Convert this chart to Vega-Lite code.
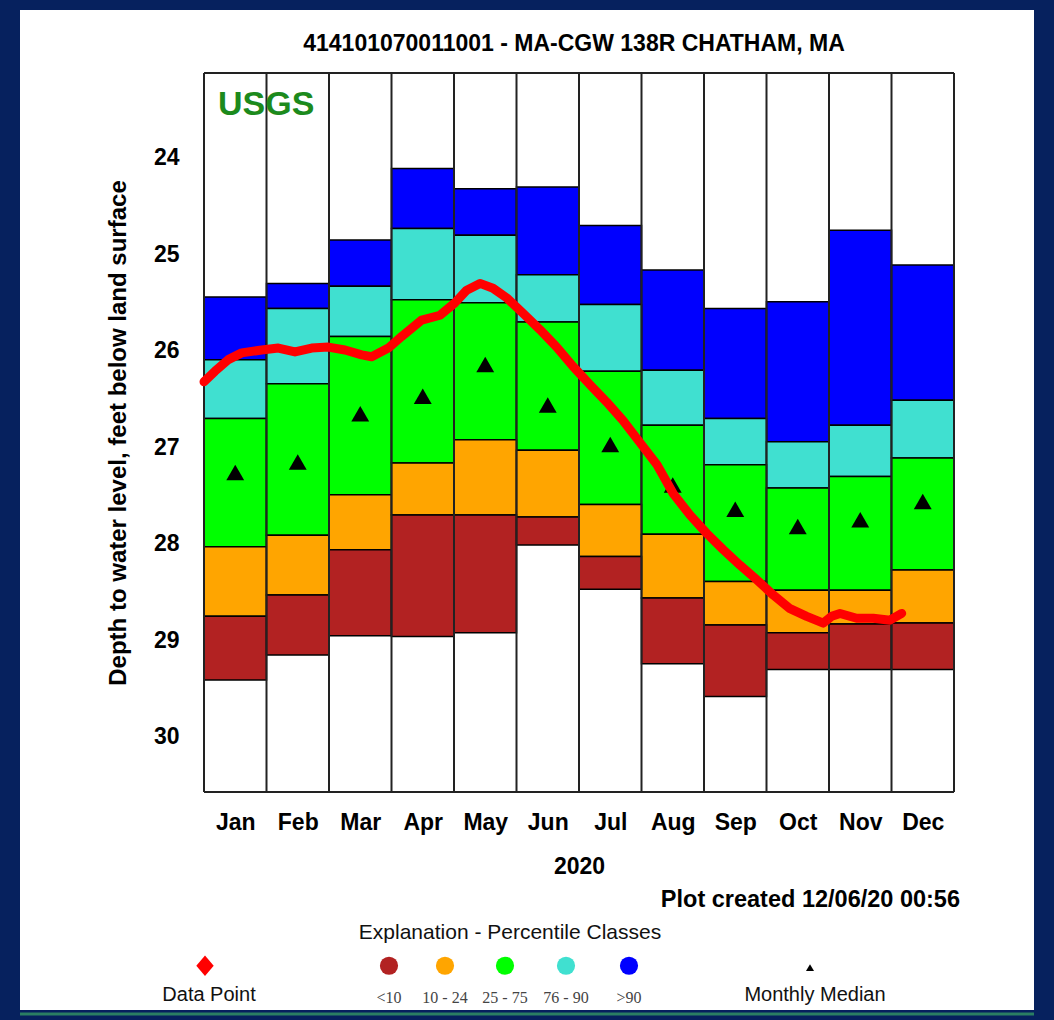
{
  "$schema": "https://vega.github.io/schema/vega-lite/v6.json",
  "width": 750,
  "height": 719,
  "autosize": {"type": "none"},
  "padding": {"left": 204, "top": 73, "right": 100, "bottom": 228},
  "background": "#06215e",
  "config": {"view": {"stroke": null, "fill": "white"}, "font": "Liberation Sans"},
  "data": {"values": [{"anchor": 1}]},
  "datasets": {
    "monthly": [
      {"month": "Jan", "m0": 0, "m1": 1, "mc": 0.5, "max": 25.44, "p90": 26.09, "p75": 26.70, "p25": 28.03, "p10": 28.75, "min": 29.41, "median": 27.26},
      {"month": "Feb", "m0": 1, "m1": 2, "mc": 1.5, "max": 25.30, "p90": 25.56, "p75": 26.34, "p25": 27.91, "p10": 28.53, "min": 29.15, "median": 27.15},
      {"month": "Mar", "m0": 2, "m1": 3, "mc": 2.5, "max": 24.85, "p90": 25.33, "p75": 25.85, "p25": 27.49, "p10": 28.06, "min": 28.95, "median": 26.65},
      {"month": "Apr", "m0": 3, "m1": 4, "mc": 3.5, "max": 24.11, "p90": 24.73, "p75": 25.47, "p25": 27.16, "p10": 27.70, "min": 28.96, "median": 26.47},
      {"month": "May", "m0": 4, "m1": 5, "mc": 4.5, "max": 24.32, "p90": 24.80, "p75": 25.50, "p25": 26.92, "p10": 27.70, "min": 28.92, "median": 26.14},
      {"month": "Jun", "m0": 5, "m1": 6, "mc": 5.5, "max": 24.30, "p90": 25.21, "p75": 25.70, "p25": 27.03, "p10": 27.72, "min": 28.01, "median": 26.56},
      {"month": "Jul", "m0": 6, "m1": 7, "mc": 6.5, "max": 24.70, "p90": 25.52, "p75": 26.21, "p25": 27.59, "p10": 28.13, "min": 28.47, "median": 26.97},
      {"month": "Aug", "m0": 7, "m1": 8, "mc": 7.5, "max": 25.16, "p90": 26.20, "p75": 26.77, "p25": 27.90, "p10": 28.56, "min": 29.24, "median": 27.39},
      {"month": "Sep", "m0": 8, "m1": 9, "mc": 8.5, "max": 25.56, "p90": 26.70, "p75": 27.18, "p25": 28.39, "p10": 28.84, "min": 29.58, "median": 27.64},
      {"month": "Oct", "m0": 9, "m1": 10, "mc": 9.5, "max": 25.49, "p90": 26.94, "p75": 27.42, "p25": 28.48, "p10": 28.92, "min": 29.30, "median": 27.82},
      {"month": "Nov", "m0": 10, "m1": 11, "mc": 10.5, "max": 24.75, "p90": 26.77, "p75": 27.30, "p25": 28.48, "p10": 28.83, "min": 29.30, "median": 27.75},
      {"month": "Dec", "m0": 11, "m1": 12, "mc": 11.5, "max": 25.11, "p90": 26.51, "p75": 27.11, "p25": 28.27, "p10": 28.82, "min": 29.30, "median": 27.56}
    ],
    "edges": [
      {"edge": 0}, {"edge": 1}, {"edge": 2}, {"edge": 3}, {"edge": 4}, {"edge": 5}, {"edge": 6},
      {"edge": 7}, {"edge": 8}, {"edge": 9}, {"edge": 10}, {"edge": 11}, {"edge": 12}
    ],
    "levels": [
      {"month_pos": 0, "depth": 26.32}, {"month_pos": 0.176, "depth": 26.21}, {"month_pos": 0.389, "depth": 26.09},
      {"month_pos": 0.603, "depth": 26.02}, {"month_pos": 0.923, "depth": 25.99}, {"month_pos": 1.189, "depth": 25.97},
      {"month_pos": 1.456, "depth": 26.01}, {"month_pos": 1.723, "depth": 25.97}, {"month_pos": 1.989, "depth": 25.96},
      {"month_pos": 2.256, "depth": 25.99}, {"month_pos": 2.523, "depth": 26.04}, {"month_pos": 2.683, "depth": 26.06},
      {"month_pos": 2.949, "depth": 25.97}, {"month_pos": 3.163, "depth": 25.85}, {"month_pos": 3.483, "depth": 25.68},
      {"month_pos": 3.776, "depth": 25.63}, {"month_pos": 4.016, "depth": 25.50}, {"month_pos": 4.203, "depth": 25.37},
      {"month_pos": 4.416, "depth": 25.30}, {"month_pos": 4.624, "depth": 25.35}, {"month_pos": 4.843, "depth": 25.45},
      {"month_pos": 5.104, "depth": 25.61}, {"month_pos": 5.376, "depth": 25.78}, {"month_pos": 5.643, "depth": 25.96},
      {"month_pos": 5.904, "depth": 26.16}, {"month_pos": 6.176, "depth": 26.35}, {"month_pos": 6.443, "depth": 26.53},
      {"month_pos": 6.704, "depth": 26.72}, {"month_pos": 6.976, "depth": 26.95}, {"month_pos": 7.248, "depth": 27.18},
      {"month_pos": 7.509, "depth": 27.48}, {"month_pos": 7.776, "depth": 27.70}, {"month_pos": 8.043, "depth": 27.89},
      {"month_pos": 8.309, "depth": 28.06}, {"month_pos": 8.576, "depth": 28.22}, {"month_pos": 8.843, "depth": 28.37},
      {"month_pos": 9.109, "depth": 28.53}, {"month_pos": 9.376, "depth": 28.67}, {"month_pos": 9.643, "depth": 28.75},
      {"month_pos": 9.909, "depth": 28.82}, {"month_pos": 10.043, "depth": 28.75}, {"month_pos": 10.176, "depth": 28.72},
      {"month_pos": 10.443, "depth": 28.77}, {"month_pos": 10.709, "depth": 28.77}, {"month_pos": 10.976, "depth": 28.79},
      {"month_pos": 11.163, "depth": 28.72}
    ]
  },
  "layer": [
    {
      "mark": {"type": "rect", "fill": "white"},
      "encoding": {
        "x": {"datum": -2.944, "type": "quantitative",
          "scale": {"domain": [0, 12], "nice": false, "zero": false},
          "axis": {"values": [0.5, 1.5, 2.5, 3.5, 4.5, 5.5, 6.5, 7.5, 8.5, 9.5, 10.5, 11.5],
            "labelExpr": "['Jan','Feb','Mar','Apr','May','Jun','Jul','Aug','Sep','Oct','Nov','Dec'][floor(datum.value)]",
            "title": "2020", "ticks": false, "tickSize": 0, "domain": false, "grid": false,
            "labelFont": "Liberation Sans", "labelFontSize": 23, "labelFontWeight": "bold", "labelColor": "black", "labelPadding": 19,
            "labelFlush": false, "labelOverlap": false,
            "titleFont": "Liberation Sans", "titleFontSize": 23, "titleFontWeight": "bold", "titleColor": "black", "titlePadding": 21, "zindex": 1}},
        "x2": {"datum": 13.28},
        "y": {"datum": 22.466, "type": "quantitative",
          "scale": {"domain": [23.12, 30.57], "reverse": true, "nice": false, "zero": false},
          "axis": {"values": [24, 25, 26, 27, 28, 29, 30], "format": "d", "title": "Depth to water level, feet below land surface",
            "ticks": false, "tickSize": 0, "domain": false, "grid": false,
            "labelFont": "Liberation Sans", "labelFontSize": 23, "labelFontWeight": "bold", "labelColor": "black", "labelPadding": 25,
            "titleFont": "Liberation Sans", "titleFontSize": 24, "titleFontWeight": "bold", "titleColor": "black", "titlePadding": 23, "zindex": 1}},
        "y2": {"datum": 32.83}
      }
    },
    {
      "mark": {"type": "rule", "color": "#2a7f62", "strokeWidth": 3},
      "encoding": {"x": {"datum": -2.944}, "x2": {"datum": 13.28}, "y": {"datum": 32.87}}
    },
    {"mark": {"type": "text", "text": "414101070011001 - MA-CGW 138R CHATHAM, MA", "font": "Liberation Sans", "fontSize": 23, "fontWeight": "bold", "color": "black", "align": "center", "baseline": "middle"},
     "encoding": {"x": {"datum": 5.92}, "y": {"datum": 22.82}}},
    {
      "data": {"name": "monthly"},
      "layer": [
        {"mark": {"type": "rect", "stroke": "black", "strokeWidth": 1.5},
         "encoding": {"x": {"field": "m0", "type": "quantitative"}, "x2": {"field": "m1"},
           "y": {"field": "max", "type": "quantitative"}, "y2": {"field": "p90"},
           "color": {"datum": ">90", "type": "nominal", "legend": null,
             "scale": {"domain": [">90", "76-90", "25-75", "10-24", "<10"], "range": ["#0000FF", "#40E0D0", "#00FF00", "#FFA500", "#B22222"]}}}},
        {"mark": {"type": "rect", "stroke": "black", "strokeWidth": 1.5},
         "encoding": {"x": {"field": "m0", "type": "quantitative"}, "x2": {"field": "m1"},
           "y": {"field": "p90", "type": "quantitative"}, "y2": {"field": "p75"},
           "color": {"datum": "76-90", "type": "nominal"}}},
        {"mark": {"type": "rect", "stroke": "black", "strokeWidth": 1.5},
         "encoding": {"x": {"field": "m0", "type": "quantitative"}, "x2": {"field": "m1"},
           "y": {"field": "p75", "type": "quantitative"}, "y2": {"field": "p25"},
           "color": {"datum": "25-75", "type": "nominal"}}},
        {"mark": {"type": "rect", "stroke": "black", "strokeWidth": 1.5},
         "encoding": {"x": {"field": "m0", "type": "quantitative"}, "x2": {"field": "m1"},
           "y": {"field": "p25", "type": "quantitative"}, "y2": {"field": "p10"},
           "color": {"datum": "10-24", "type": "nominal"}}},
        {"mark": {"type": "rect", "stroke": "black", "strokeWidth": 1.5},
         "encoding": {"x": {"field": "m0", "type": "quantitative"}, "x2": {"field": "m1"},
           "y": {"field": "p10", "type": "quantitative"}, "y2": {"field": "min"},
           "color": {"datum": "<10", "type": "nominal"}}},
        {"mark": {"type": "point", "shape": "triangle-up", "filled": true, "color": "black", "size": 320, "opacity": 1},
         "encoding": {"x": {"field": "mc", "type": "quantitative"}, "y": {"field": "median", "type": "quantitative"}}}
      ]
    },
    {
      "data": {"name": "edges"},
      "mark": {"type": "rule", "color": "#222222", "strokeWidth": 2},
      "encoding": {"x": {"field": "edge", "type": "quantitative"}}
    },
    {"mark": {"type": "rule", "color": "#222222", "strokeWidth": 2}, "encoding": {"y": {"datum": 23.12}}},
    {"mark": {"type": "rule", "color": "#222222", "strokeWidth": 2}, "encoding": {"y": {"datum": 30.57}}},
    {
      "data": {"name": "levels"},
      "mark": {"type": "line", "color": "#FF0000", "strokeWidth": 9, "strokeCap": "round", "strokeJoin": "round"},
      "encoding": {"x": {"field": "month_pos", "type": "quantitative"}, "y": {"field": "depth", "type": "quantitative"}}
    },
    {"mark": {"type": "text", "text": "USGS", "font": "Liberation Sans", "fontSize": 34, "fontWeight": "bold", "color": "#1c8a1c", "align": "left", "baseline": "middle"},
     "encoding": {"x": {"datum": 0.224}, "y": {"datum": 23.45}}},
    {"mark": {"type": "text", "text": "Plot created 12/06/20 00:56", "font": "Liberation Sans", "fontSize": 23.5, "fontWeight": "bold", "color": "black", "align": "right", "baseline": "middle"},
     "encoding": {"x": {"datum": 12.096}, "y": {"datum": 31.69}}},
    {"mark": {"type": "text", "text": "Explanation - Percentile Classes", "font": "Liberation Sans", "fontSize": 21, "color": "#111111", "align": "center", "baseline": "middle"},
     "encoding": {"x": {"datum": 4.896}, "y": {"datum": 32.03}}},
    {"mark": {"type": "point", "shape": "M0,-1L0.85,0L0,1L-0.85,0Z", "filled": true, "color": "#FF0000", "size": 420, "opacity": 1},
     "encoding": {"x": {"datum": 0.016}, "y": {"datum": 32.37}}},
    {"mark": {"type": "text", "text": "Data Point", "font": "Liberation Sans", "fontSize": 20, "color": "#111111", "align": "center", "baseline": "middle"},
     "encoding": {"x": {"datum": 0.08}, "y": {"datum": 32.67}}},
    {"mark": {"type": "point", "shape": "circle", "filled": true, "size": 330, "opacity": 1},
     "encoding": {"x": {"datum": 2.96}, "y": {"datum": 32.37}, "color": {"datum": "<10", "type": "nominal"}}},
    {"mark": {"type": "point", "shape": "circle", "filled": true, "size": 330, "opacity": 1},
     "encoding": {"x": {"datum": 3.856}, "y": {"datum": 32.37}, "color": {"datum": "10-24", "type": "nominal"}}},
    {"mark": {"type": "point", "shape": "circle", "filled": true, "size": 330, "opacity": 1},
     "encoding": {"x": {"datum": 4.816}, "y": {"datum": 32.37}, "color": {"datum": "25-75", "type": "nominal"}}},
    {"mark": {"type": "point", "shape": "circle", "filled": true, "size": 330, "opacity": 1},
     "encoding": {"x": {"datum": 5.792}, "y": {"datum": 32.37}, "color": {"datum": "76-90", "type": "nominal"}}},
    {"mark": {"type": "point", "shape": "circle", "filled": true, "size": 330, "opacity": 1},
     "encoding": {"x": {"datum": 6.8}, "y": {"datum": 32.37}, "color": {"datum": ">90", "type": "nominal"}}},
    {"mark": {"type": "text", "text": "<10", "font": "Liberation Serif", "fontSize": 16, "color": "#444444", "align": "center", "baseline": "middle"},
     "encoding": {"x": {"datum": 2.96}, "y": {"datum": 32.70}}},
    {"mark": {"type": "text", "text": "10 - 24", "font": "Liberation Serif", "fontSize": 16, "color": "#444444", "align": "center", "baseline": "middle"},
     "encoding": {"x": {"datum": 3.856}, "y": {"datum": 32.70}}},
    {"mark": {"type": "text", "text": "25 - 75", "font": "Liberation Serif", "fontSize": 16, "color": "#444444", "align": "center", "baseline": "middle"},
     "encoding": {"x": {"datum": 4.816}, "y": {"datum": 32.70}}},
    {"mark": {"type": "text", "text": "76 - 90", "font": "Liberation Serif", "fontSize": 16, "color": "#444444", "align": "center", "baseline": "middle"},
     "encoding": {"x": {"datum": 5.792}, "y": {"datum": 32.70}}},
    {"mark": {"type": "text", "text": ">90", "font": "Liberation Serif", "fontSize": 16, "color": "#444444", "align": "center", "baseline": "middle"},
     "encoding": {"x": {"datum": 6.8}, "y": {"datum": 32.70}}},
    {"mark": {"type": "point", "shape": "triangle-up", "filled": true, "color": "black", "size": 64, "opacity": 1},
     "encoding": {"x": {"datum": 9.696}, "y": {"datum": 32.39}}},
    {"mark": {"type": "text", "text": "Monthly Median", "font": "Liberation Sans", "fontSize": 20, "color": "#111111", "align": "center", "baseline": "middle"},
     "encoding": {"x": {"datum": 9.776}, "y": {"datum": 32.67}}}
  ]
}
